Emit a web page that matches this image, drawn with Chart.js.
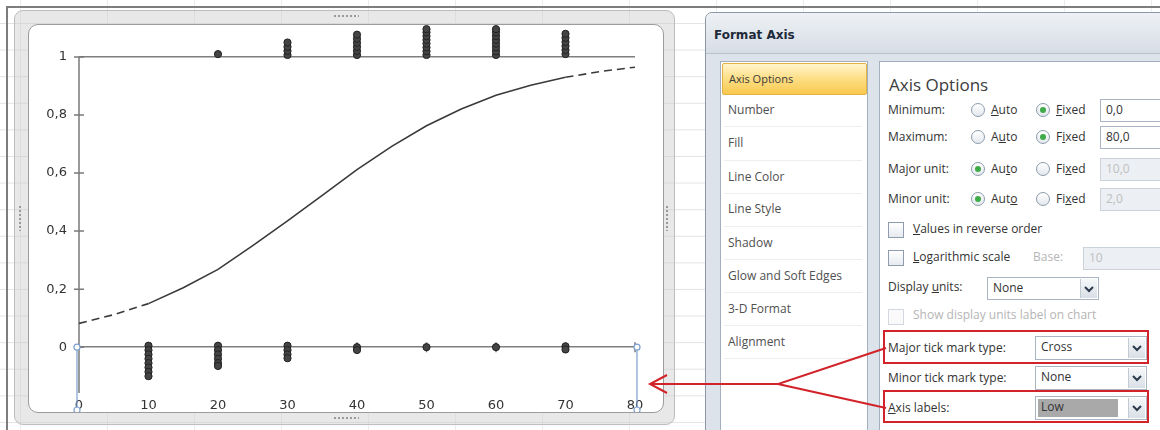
<!DOCTYPE html>
<html>
<head>
<meta charset="utf-8">
<script src="https://cdn.jsdelivr.net/npm/chart.js@4"></script>
<style>
html, body { margin: 0; padding: 0; }
body {
    width: 1160px; height: 430px; position: relative; overflow: hidden;
    background-color: #fff;
    background-image: linear-gradient(#e3e3e3 1px, transparent 1px), linear-gradient(90deg, #ececec 1px, transparent 1px);
    background-size: 100% 26.6px, 87px 100%;
    background-position: 0 23px, 20px 0;
    font-family: 'Open Sans', sans-serif;
}
.abs { position: absolute; }
.frame { left: 14px; top: 10px; width: 659px; height: 413px; border: 1px solid #bdbdbd; border-radius: 9px; background: rgba(205,205,205,0.45); }
.inner { left: 28px; top: 24px; width: 634px; height: 387px; border: 1px solid #9c9c9c; border-radius: 10px; background: #fff; }
.grip { width: 26px; height: 4px; background-image: radial-gradient(circle, #9a9a9a 1px, transparent 1.3px); background-size: 4px 4px; }
.gripv { width: 4px; height: 26px; background-image: radial-gradient(circle, #9a9a9a 1px, transparent 1.3px); background-size: 4px 4px; }
#chartBox { left: 30px; top: 23px; width: 630px; height: 389px; }

.dlg { left: 705px; top: 12px; width: 470px; height: 430px; background: #dde3ea; border: 1px solid #8d98a6; border-top-left-radius: 7px; }
.titlebar { left: 706px; top: 13px; width: 460px; height: 40px; border-top-left-radius: 6px; background: linear-gradient(#eef1f5, #d6dde5); border-bottom: 1px solid #b9c3ce; }
.title { left: 714px; top: 28px; font: bold 12px 'DejaVu Sans', sans-serif; color: #1e2a3a; }
.panel { background: #fff; border: 1px solid #a3afbd; }
.item { position: absolute; left: 722px; width: 137px; height: 30px; line-height: 30px; padding-left: 6px; font-size: 12px; color: #505050; white-space: nowrap; }
.item.sel { background: linear-gradient(#fff5cc, #fde08a 45%, #f9c94e); border: 1px solid #e2b245; border-radius: 2px; color: #3a3a3a; font-size: 11px; }
.sep { position: absolute; left: 724px; width: 138px; height: 1px; background: #eeeeee; }
.t { position: absolute; font-size: 12px; color: #333; line-height: 16px; white-space: nowrap; }
.dis { color: #b5b5b5; }
.h { font-size: 17px; line-height: 22px; color: #3c3c3c; }
.radio { position: absolute; width: 12px; height: 12px; border: 1px solid #8e9cab; border-radius: 50%; background: linear-gradient(#ffffff, #e3e8ee); }
.radio.on::after { content: ''; position: absolute; left: 3px; top: 3px; width: 6px; height: 6px; border-radius: 50%; background: #3eaa48; }
.box { position: absolute; border: 1px solid #a9b5c3; background: #fff; font-size: 12px; color: #333; line-height: 20px; padding-left: 5px; box-sizing: border-box; white-space: nowrap; }
.box.off { background: #eceff3; color: #c0c0c0; border-color: #cbd2da; }
.chk { position: absolute; width: 14px; height: 14px; border: 1px solid #8e9cab; background: linear-gradient(#fff, #e6ebf0); }
.chk.off { border-color: #d3d8de; background: #fafafa; }
.btn { position: absolute; top: 1px; right: 1px; bottom: 1px; width: 16px; background: linear-gradient(#f6f8fa, #d9dfe6); border-left: 1px solid #c2cad4; }
.hl { position: absolute; left: 2px; top: 2px; bottom: 2px; width: 80px; background: #a9a9a9; }
#notes { left: 0; top: 0; }
</style>
</head>
<body>

<!-- worksheet borders -->
<div class="abs" style="left:6px;top:6px;right:0;height:2px;background:#7d7d7d"></div>
<div class="abs" style="left:6px;top:6px;width:2px;bottom:0;background:#7d7d7d"></div>

<!-- chart object frame -->
<div class="abs frame"></div>
<div class="abs inner"></div>
<div class="abs grip" style="left:333px;top:14px"></div>
<div class="abs grip" style="left:333px;top:416px"></div>
<div class="abs gripv" style="left:18px;top:205px"></div>
<div class="abs gripv" style="left:665px;top:205px"></div>

<div class="abs" id="chartBox"><canvas id="chart" width="630" height="389"></canvas></div>

<!-- Format Axis dialog -->
<div class="abs dlg"></div>
<div class="abs titlebar"></div>
<div class="abs title">Format Axis</div>
<div class="abs panel" style="left:720px;top:61px;width:146px;height:380px"></div>
<div class="abs panel" style="left:879px;top:61px;width:290px;height:380px"></div>

<div class="item sel" style="top:63px">Axis Options</div>
<div class="item" style="top:95px">Number</div>
<div class="item" style="top:128px">Fill</div>
<div class="item" style="top:162px">Line Color</div>
<div class="item" style="top:194px">Line Style</div>
<div class="item" style="top:228px">Shadow</div>
<div class="item" style="top:261px">Glow and Soft Edges</div>
<div class="item" style="top:294px">3-D Format</div>
<div class="item" style="top:327px">Alignment</div>
<div class="sep" style="top:126px"></div>
<div class="sep" style="top:160px"></div>
<div class="sep" style="top:193px"></div>
<div class="sep" style="top:226px"></div>
<div class="sep" style="top:259px"></div>
<div class="sep" style="top:292px"></div>
<div class="sep" style="top:325px"></div>
<div class="sep" style="top:358px"></div>

<div class="t h" style="left:889px;top:74px">Axis Options</div>

<div class="t" style="left:888px;top:102px">Minimum:</div>
<div class="radio" style="left:971px;top:103px"></div>
<div class="t" style="left:991px;top:102px"><u>A</u>uto</div>
<div class="radio on" style="left:1036px;top:103px"></div>
<div class="t" style="left:1056px;top:102px"><u>F</u>ixed</div>
<div class="box" style="left:1100px;top:99px;width:70px;height:23px">0,0</div>

<div class="t" style="left:888px;top:129px">Maximum:</div>
<div class="radio" style="left:971px;top:130px"></div>
<div class="t" style="left:991px;top:129px">A<u>u</u>to</div>
<div class="radio on" style="left:1036px;top:130px"></div>
<div class="t" style="left:1056px;top:129px">F<u>i</u>xed</div>
<div class="box" style="left:1100px;top:126px;width:70px;height:23px">80,0</div>

<div class="t" style="left:888px;top:161px">Major unit:</div>
<div class="radio on" style="left:971px;top:162px"></div>
<div class="t" style="left:991px;top:161px">Au<u>t</u>o</div>
<div class="radio" style="left:1036px;top:162px"></div>
<div class="t" style="left:1056px;top:161px">Fi<u>x</u>ed</div>
<div class="box off" style="left:1100px;top:158px;width:70px;height:23px">10,0</div>

<div class="t" style="left:888px;top:191px">Minor unit:</div>
<div class="radio on" style="left:971px;top:192px"></div>
<div class="t" style="left:991px;top:191px">Aut<u>o</u></div>
<div class="radio" style="left:1036px;top:192px"></div>
<div class="t" style="left:1056px;top:191px">Fi<u>x</u>ed</div>
<div class="box off" style="left:1100px;top:188px;width:70px;height:23px">2,0</div>

<div class="chk" style="left:888px;top:222px"></div>
<div class="t" style="left:913px;top:221px"><u>V</u>alues in reverse order</div>

<div class="chk" style="left:888px;top:250px"></div>
<div class="t" style="left:913px;top:249px"><u>L</u>ogarithmic scale</div>
<div class="t dis" style="left:1033px;top:249px">Base:</div>
<div class="box off" style="left:1083px;top:247px;width:90px;height:23px">10</div>

<div class="t" style="left:888px;top:279px">Display <u>u</u>nits:</div>
<div class="box" style="left:987px;top:277px;width:112px;height:23px">None<div class="btn"><svg width="16" height="20"><polyline points="4,8 8,12 12,8" fill="none" stroke="#2b3a4c" stroke-width="2"/></svg></div></div>

<div class="chk off" style="left:888px;top:309px"></div>
<div class="t dis" style="left:913px;top:307px">Show display units label on chart</div>

<div class="t" style="left:888px;top:340px">Major tick mark type:</div>
<div class="box" style="left:1035px;top:336px;width:112px;height:24px">Cross<div class="btn"><svg width="16" height="20"><polyline points="4,8 8,12 12,8" fill="none" stroke="#2b3a4c" stroke-width="2"/></svg></div></div>

<div class="t" style="left:888px;top:370px">Minor tick mark type:</div>
<div class="box" style="left:1035px;top:366px;width:112px;height:24px">None<div class="btn"><svg width="16" height="20"><polyline points="4,8 8,12 12,8" fill="none" stroke="#2b3a4c" stroke-width="2"/></svg></div></div>

<div class="t" style="left:888px;top:400px"><u>A</u>xis labels:</div>
<div class="box" style="left:1035px;top:396px;width:112px;height:24px"><div class="hl"></div><span style="position:relative">Low</span><div class="btn"><svg width="16" height="20"><polyline points="4,8 8,12 12,8" fill="none" stroke="#2b3a4c" stroke-width="2"/></svg></div></div>

<!-- red callouts -->
<svg class="abs" id="notes" width="1160" height="430">
    <g fill="none" stroke="#d2232a" stroke-width="2">
        <rect x="884" y="331" width="264" height="32"/>
        <rect x="884" y="391" width="264" height="31"/>
        <polyline points="886,348 778,384 886,408"/>
        <line x1="778" y1="384" x2="650" y2="384"/>
        <polyline points="667,375 650,384 667,393"/>
    </g>
</svg>

<script>
// x axis (0..80) and y axis ticks
const xTickValues = [0, 10, 20, 30, 40, 50, 60, 70, 80];
const yTickValues = [0, 0.2, 0.4, 0.6, 0.8, 1];
const yTickLabels = ['0', '0,2', '0,4', '0,6', '0,8', '1'];

// fitted probability curve
const curveX = [0, 5, 10, 15, 20, 25, 30, 35, 40, 45, 50, 55, 60, 65, 70, 75, 80];
const curveY = [0.082, 0.112, 0.150, 0.205, 0.268, 0.350, 0.435, 0.523, 0.612, 0.692, 0.763, 0.821, 0.868, 0.903, 0.930, 0.950, 0.965];

// observed 0/1 outcomes, stacked where several share the same x
const outcomeX = [
    20,
    30, 30, 30, 30,
    40, 40, 40, 40, 40, 40,
    50, 50, 50, 50, 50, 50, 50, 50,
    60, 60, 60, 60, 60, 60, 60, 60,
    70, 70, 70, 70, 70, 70,
    10, 10, 10, 10, 10, 10, 10, 10,
    20, 20, 20, 20, 20, 20,
    30, 30, 30, 30,
    40, 40,
    50,
    60,
    70, 70
];
const outcomeY = [
    1.010,
    1.007, 1.021, 1.035, 1.050,
    1.007, 1.021, 1.035, 1.049, 1.063, 1.077,
    1.007, 1.020, 1.033, 1.046, 1.059, 1.072, 1.085, 1.096,
    1.007, 1.020, 1.033, 1.046, 1.059, 1.072, 1.085, 1.096,
    1.010, 1.024, 1.038, 1.052, 1.066, 1.080,
    0.005, -0.010, -0.025, -0.040, -0.055, -0.070, -0.085, -0.100,
    0.005, -0.010, -0.025, -0.040, -0.055, -0.065,
    0.005, -0.010, -0.025, -0.038,
    0.000, -0.010,
    0.000,
    0.000,
    0.003, -0.008
];

const dashFrom = 70; // forecast part of the curve is dashed
const dashTo = 10;

// y axis line from 1 down to the bottom, plus "Cross" major tick marks
const crossTicks = {
    id: 'crossTicks',
    beforeDatasetsDraw(chart) {
        const { ctx, chartArea, scales: { x, y } } = chart;
        const x0 = x.getPixelForValue(x.min);
        const y0 = y.getPixelForValue(0);
        const yTop = y.getPixelForValue(yTickValues[yTickValues.length - 1]);
        ctx.save();
        ctx.strokeStyle = '#7a7a7a';
        ctx.lineWidth = 1.5;
        ctx.beginPath();
        ctx.moveTo(x0, yTop);
        ctx.lineTo(x0, chartArea.bottom);
        y.ticks.forEach(t => {
            const py = y.getPixelForValue(t.value);
            ctx.moveTo(x0 - 5, py);
            ctx.lineTo(x0 + 5, py);
        });
        x.ticks.forEach(t => {
            const px = x.getPixelForValue(t.value);
            ctx.moveTo(px, y0 - 5);
            ctx.lineTo(px, y0 + 5);
        });
        ctx.stroke();
        ctx.restore();
    }
};

// blue selection box around the selected horizontal axis
const axisSelection = {
    id: 'axisSelection',
    afterDraw(chart) {
        const { ctx, scales: { x, y } } = chart;
        const left = x.getPixelForValue(x.min) - 2;
        const right = x.getPixelForValue(x.max) + 2;
        const top = y.getPixelForValue(0);
        const bottom = chart.height - 2;
        ctx.save();
        ctx.strokeStyle = '#7d9fcf';
        ctx.lineWidth = 1.2;
        ctx.beginPath();
        ctx.moveTo(left, top); ctx.lineTo(left, bottom);
        ctx.moveTo(right, top); ctx.lineTo(right, bottom);
        ctx.stroke();
        ctx.fillStyle = '#fff';
        [[left, top], [right, top], [left, bottom], [right, bottom]].forEach(([px, py]) => {
            ctx.beginPath();
            ctx.arc(px, py, 3, 0, Math.PI * 2);
            ctx.fill();
            ctx.stroke();
        });
        ctx.restore();
    }
};

const curve = curveX.map((v, i) => ({ x: v, y: curveY[i] }));
const outcomes = outcomeX.map((v, i) => ({ x: v, y: outcomeY[i] }));

new Chart(document.getElementById('chart'), {
    type: 'scatter',
    data: {
        datasets: [
            {
                data: curve,
                showLine: true,
                pointRadius: 0,
                borderColor: '#3a3a3a',
                borderWidth: 1.6,
                segment: {
                    borderDash: ctx => (ctx.p1.parsed.x <= dashTo || ctx.p0.parsed.x >= dashFrom) ? [8, 5] : undefined
                }
            },
            {
                data: outcomes,
                pointRadius: 3.6,
                pointBackgroundColor: '#444',
                pointBorderColor: '#222',
                pointBorderWidth: 1,
                clip: false
            }
        ]
    },
    plugins: [crossTicks, axisSelection],
    options: {
        responsive: false,
        animation: false,
        devicePixelRatio: 1,
        layout: { padding: { top: 1, right: 25, left: 0, bottom: 0 } },
        plugins: { legend: { display: false }, tooltip: { enabled: false } },
        scales: {
            x: {
                type: 'linear',
                min: 0,
                max: 80,
                afterBuildTicks: s => { s.ticks = xTickValues.map(v => ({ value: v })); },
                afterFit: s => { s.height = 19; s.paddingLeft = 0; s.paddingRight = 0; },
                grid: { display: false, drawTicks: false },
                border: { display: false },
                ticks: { color: '#333', padding: 5, maxRotation: 0, autoSkip: false,
                    font: { family: 'DejaVu Sans', size: 13 } }
            },
            y: {
                min: -0.158,
                max: 1.1,
                afterBuildTicks: s => { s.ticks = yTickValues.map(v => ({ value: v })); },
                afterFit: s => { s.width = 49; s.paddingTop = 0; s.paddingBottom = 0; },
                grid: {
                    drawTicks: false,
                    lineWidth: 1.5,
                    color: c => (c.tick && (c.tick.value === 0 || c.tick.value === 1)) ? '#7f7f7f' : 'transparent'
                },
                border: { display: false },
                ticks: {
                    color: '#333', padding: 12,
                    font: { family: 'DejaVu Sans', size: 13 },
                    callback: (v, i) => yTickLabels[i]
                }
            }
        }
    }
});
</script>
</body>
</html>
